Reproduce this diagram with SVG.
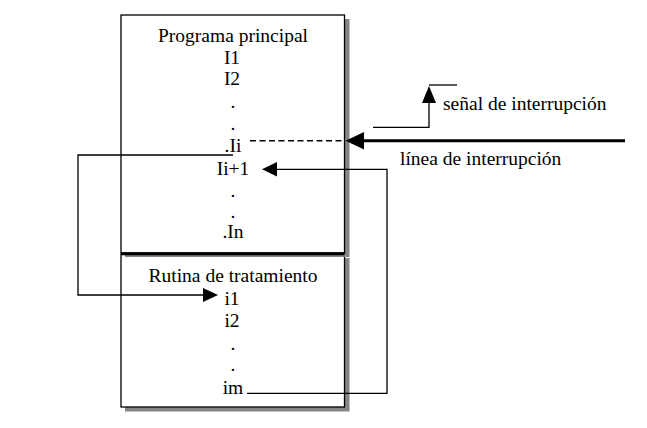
<svg xmlns="http://www.w3.org/2000/svg" width="647" height="428" viewBox="0 0 647 428">
<style>
  text { font-family: "Liberation Serif", "Times New Roman", serif; font-size: 19.5px; fill: #000; }
  .c { text-anchor: middle; }
  .box { fill: #fff; stroke: #000; stroke-width: 1.3; }
  .shadow { fill: #858585; stroke: none; }
  .ln { fill: none; stroke: #000; stroke-width: 1.3; }
  .head { fill: #000; stroke: none; }
</style>
<rect width="647" height="428" fill="#fff"/>
<g id="rutina-tratamiento">
  <rect class="shadow" x="125" y="258" width="224.5" height="153.5"/>
  <rect class="box" x="121" y="254" width="223.5" height="153"/>
  <text class="c" x="233" y="282">Rutina de tratamiento</text>
  <text class="c" x="232" y="305">i1</text>
  <text class="c" x="232" y="327">i2</text>
  <text class="c" x="233" y="350">.</text>
  <text class="c" x="233" y="371">.</text>
  <text class="c" x="233" y="393.5">im</text>
</g>
<g id="programa-principal">
  <rect class="shadow" x="125" y="19" width="224.5" height="238"/>
  <rect class="box" x="121" y="15" width="223.5" height="238"/>
  <line x1="121" y1="253.8" x2="344.5" y2="253.8" stroke="#000" stroke-width="3"/>
  <text class="c" x="233" y="42">Programa principal</text>
  <text class="c" x="232" y="63.5">I1</text>
  <text class="c" x="232" y="85">I2</text>
  <text class="c" x="233" y="108">.</text>
  <text class="c" x="233" y="130">.</text>
  <text class="c" x="233" y="152">.Ii</text>
  <text class="c" x="233" y="174.5">Ii+1</text>
  <text class="c" x="233" y="196.5">.</text>
  <text class="c" x="233" y="217.5">.</text>
  <text class="c" x="233" y="237.5">.In</text>
</g>
<g id="connectors">
  <line x1="250" y1="140.8" x2="345" y2="140.8" stroke="#000" stroke-width="1.6" stroke-dasharray="6,3.5"/>
  <line x1="360" y1="140.8" x2="625" y2="140.8" stroke="#000" stroke-width="3"/>
  <polygon class="head" points="345.5,140.8 364,132 364,149.6"/>
  <polyline class="ln" points="373,127.3 429,127.3 429,102"/>
  <polygon class="head" points="429,86 422,103 436,103"/>
  <line class="ln" x1="429" y1="85" x2="457" y2="85"/>
  <polyline class="ln" points="233,155 78,155 78,295 204,295"/>
  <polygon class="head" points="218,295 203,288 203,302"/>
  <polyline class="ln" points="247,393.3 387,393.3 387,169.3 276,169.3"/>
  <polygon class="head" points="262,169.3 277,162 277,176.6"/>
</g>
<g id="labels">
  <text x="443" y="109.7">señal de interrupción</text>
  <text x="400" y="165.3">línea de interrupción</text>
</g>
</svg>
